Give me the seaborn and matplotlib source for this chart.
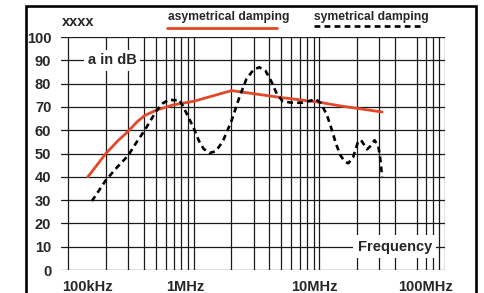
import matplotlib
matplotlib.use("Agg")
import matplotlib.pyplot as plt
import seaborn as sns
import pandas as pd
from matplotlib.lines import Line2D
from matplotlib.patches import Rectangle
from matplotlib.transforms import ScaledTranslation

# ---- data (frequency in MHz, attenuation in dB) ----
asym_freq = [0.144, 0.17, 0.2, 0.25, 0.3, 0.353, 0.408, 0.5, 0.68, 0.82, 1.0, 2.0, 5.0, 10.0, 14.4, 31.6]
asym_db = [40, 45, 50, 55.5, 59.4, 63.5, 66.3, 68.5, 70.8, 71.6, 72.4, 77, 74, 72, 70.5, 67.8]

sym_freq = [0.155, 0.2, 0.245, 0.3, 0.353, 0.408, 0.464, 0.51, 0.568, 0.64, 0.7, 0.76, 0.82,
            0.9, 1.0, 1.1, 1.2, 1.34, 1.5, 1.7, 2.0, 2.32, 2.63, 3.0, 3.33, 3.73, 4.1, 4.6,
            5.1, 6.0, 7.3, 8.3, 9.4, 10.3, 11.5, 12.6, 13.6, 14.8, 16.0, 17.0, 18.6, 20.3,
            21.5, 24.0, 25.9, 27.5, 29.5, 30.5, 31.6]
sym_db = [29.6, 38.5, 44, 49, 55, 60, 65, 68.6, 71.5, 73.2, 72.8, 73.2, 70.5,
          66, 61, 55.5, 52, 50.2, 51, 55, 64, 74.4, 82, 86, 87, 85.5, 81.5, 75.5,
          72.5, 71.8, 71.8, 72.5, 73.3, 71.5, 66.5, 60, 54, 49, 46.5, 45.8, 48.5, 55,
          55.7, 51.8, 53.5, 55.7, 53, 48, 40]

y_ticks = [0, 10, 20, 30, 40, 50, 60, 70, 80, 90, 100]
x_ticks = [0.1, 1, 10, 100]
x_labels = ["100kHz", "1MHz", "10MHz", "100MHz"]
minor_mult = [2, 3, 4, 5, 6, 7, 8, 9]

sns.set_theme(style="white")
plt.rcParams["font.family"] = ["Liberation Sans", "DejaVu Sans"]
plt.rcParams["font.weight"] = "bold"

FS = 10.5
fig = plt.figure(figsize=(4.84, 2.93), dpi=100)
ax = fig.add_axes([61 / 484, 23 / 293, 384 / 484, 233 / 293])
ax.set_xscale("log")
ax.set_xlim(0.088, 100)
ax.set_ylim(0, 100)

gcol = "#1a1a1a"
minor = [m * d for d in x_ticks[:-1] for m in minor_mult if not (d == 10 and m == 5)]
ax.set_xticks(x_ticks)
ax.set_xticks(minor, minor=True)
ax.set_yticks(y_ticks)
ax.grid(True, which="major", axis="both", color=gcol, lw=0.9)
ax.grid(True, which="minor", axis="x", color=gcol, lw=0.9)
ax.set_axisbelow(True)
for s in ax.spines.values():
    s.set_visible(False)

df_a = pd.DataFrame({"f": asym_freq, "db": asym_db})
df_s = pd.DataFrame({"f": sym_freq, "db": sym_db})
red = "#e2492a"
dash = (0, (2.2, 1.6))
sns.lineplot(data=df_a, x="f", y="db", ax=ax, color=red, lw=2.0, sort=False, zorder=3)
sns.lineplot(data=df_s, x="f", y="db", ax=ax, color="black", lw=1.9, sort=False,
             linestyle=dash, zorder=4)

ax.set_xlabel("")
ax.set_ylabel("")
ax.set_xticklabels(x_labels)
ax.tick_params(axis="both", which="both", length=0, labelsize=FS)
ax.tick_params(axis="y", pad=7)
ax.tick_params(axis="x", pad=7)
for t in ax.get_yticklabels():
    t.set_fontweight("bold")
offsets = [(-6, "left"), (-8, "center"), (-5, "center"), (8, "right")]
for t, (dx, ha) in zip(ax.get_xticklabels(), offsets):
    t.set_fontweight("bold")
    t.set_ha(ha)
    t.set_transform(t.get_transform() + ScaledTranslation(dx / 100, 0, fig.dpi_scale_trans))

ax.text(0.07, 0.9, "a in dB", transform=ax.transAxes, ha="left", va="center",
        fontsize=FS, fontweight="bold",
        bbox=dict(boxstyle="square,pad=0.25", fc="white", ec="none"), zorder=5)
ax.text(0.773, 0.1, "Frequency", transform=ax.transAxes, ha="left", va="center",
        fontsize=FS, fontweight="bold",
        bbox=dict(boxstyle="square,pad=0.3", fc="white", ec="none"), zorder=5)

# header texts and legend
fig.text(62 / 484, 1 - 22 / 293, "xxxx", ha="left", va="center", fontsize=FS, fontweight="bold")
fig.text(168 / 484, 1 - 17 / 293, "asymetrical damping", ha="left", va="center",
         fontsize=8.7, fontweight="bold")
fig.text(314 / 484, 1 - 17 / 293, "symetrical damping", ha="left", va="center",
         fontsize=8.7, fontweight="bold")
fig.add_artist(Line2D([167 / 484, 277 / 484], [1 - 27.7 / 293] * 2, color=red, lw=2.0,
                      transform=fig.transFigure))
fig.add_artist(Line2D([314 / 484, 423 / 484], [1 - 25.5 / 293] * 2, color="black", lw=1.9,
                      linestyle=dash, transform=fig.transFigure))

# outer frame
fig.add_artist(Rectangle((26 / 484, -0.05), (476 - 26) / 484, 1.05 - 6 / 293,
                         transform=fig.transFigure, fill=False, ec="black", lw=1.9))

fig.savefig("out.png", dpi=100)
